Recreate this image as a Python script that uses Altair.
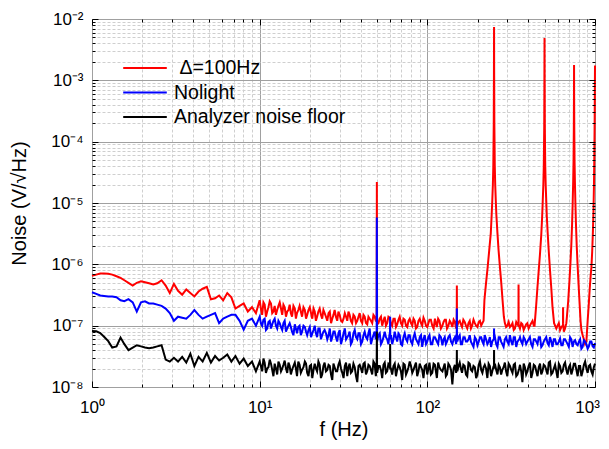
import altair as alt
import pandas as pd

UNIT = 1e-8  # all series values below are in units of 1e-8 V/sqrt(Hz)

NAMES = ["\u200b\u00a0\u0394=100Hz", "Nolight", "Analyzer noise floor"]
COLORS = ["#ff0000", "#0000ff", "#000000"]

F_LOW = [1.0, 1.06, 1.12, 1.18, 1.25, 1.32, 1.4, 1.48, 1.56, 1.65,
         1.75, 1.85, 1.96, 2.07, 2.19, 2.32, 2.45, 2.6, 2.75, 2.91,
         3.08, 3.26, 3.45, 3.65, 3.86, 4.08, 4.32, 4.57, 4.84, 5.12,
         5.42, 5.73, 6.06, 6.41, 6.78, 7.17, 7.59, 8.03, 8.5, 9.0,
         9.5]
F_HIGH = [10.0, 10.35, 10.71, 11.09, 11.48, 11.88, 12.29, 12.72, 13.17, 13.63,
          14.1, 14.6, 15.1, 15.6, 16.2, 16.7, 17.3, 17.9, 18.6, 19.2,
          19.9, 20.6, 21.3, 22.0, 22.8, 23.6, 24.4, 25.3, 26.2, 27.1,
          28.0, 29.0, 30.0, 31.1, 32.2, 33.3, 34.4, 35.6, 36.9, 38.2,
          39.5, 40.9, 42.3, 43.8, 45.3, 46.9, 48.5, 50.2, 52.0, 53.8,
          55.7, 57.6, 59.6, 61.7, 63.9, 66.1, 68.4, 70.8, 73.3, 75.9,
          78.5, 81.3, 84.1, 87.0, 90.1, 93.2, 96.5, 99.9, 103, 107,
          111, 114, 118, 123, 127, 131, 136, 141, 146, 151,
          156, 161, 167, 173, 179, 185, 192, 199, 206, 213,
          220, 228, 236, 244, 253, 262, 271, 280, 290, 300,
          311, 322, 333, 345, 357, 369, 382, 395, 409, 424,
          439, 454, 470, 486, 503, 521, 539, 558, 578, 598,
          619, 641, 663, 686, 710, 735, 761, 788, 815, 844,
          873, 904, 935, 968, 1000]
F_MID = [10.17, 10.53, 10.9, 11.28, 11.68, 12.08, 12.5, 12.94, 13.4, 13.86,
         14.35, 14.85, 15.35, 15.9, 16.45, 17.0, 17.6, 18.25, 18.9, 19.55,
         20.25, 20.95, 21.65, 22.4, 23.2, 24.0, 24.85, 25.75, 26.65, 27.55,
         28.5, 29.5, 30.55, 31.65, 32.75, 33.85, 35.0, 36.25, 37.55, 38.85,
         40.2, 41.6, 43.05, 44.55, 46.1, 47.7, 49.3, 51.1, 52.9, 54.75,
         56.65, 58.6, 60.65, 62.8, 65.0, 67.25, 69.6, 72.05, 74.6, 77.2,
         79.9, 82.7, 85.55, 88.55, 91.65, 94.85, 98.2, 101.5, 105, 109,
         112.5, 116, 120.5, 125, 129, 133.5, 138.5, 143.5, 148.5, 153.5,
         158.5, 164, 170, 176, 182, 188.5, 195.5, 202.5, 209.5, 216.5,
         224, 232, 240, 248.5, 257.5, 266.5, 275.5, 285, 295, 305.5,
         316.5, 327.5, 339, 353, 363, 375.5, 388.5, 402, 416.5, 431.5,
         446.5, 462, 478, 494.5, 512, 530, 548.5, 568, 588, 608.5,
         630, 652, 674.5, 698, 722.5, 748, 774.5, 801.5, 829.5, 858.5,
         888.5, 919.5, 951.5, 984]

RED_LOW = [65, 68, 71, 71, 70, 68, 64, 60, 55, 50,
           45, 50, 53, 51, 49, 47, 49, 55, 45, 34,
           48, 37, 32, 39, 34, 30, 36, 40, 43, 27,
           28, 31, 26, 34, 29, 19, 21, 23, 17, 20,
           16]
RED_HIGH = [26, 15, 22, 17, 25, 16, 21, 18, 24, 15,
            20, 17, 22, 14, 19, 16, 21, 14, 18, 15,
            20, 13, 17, 14, 19, 13, 16, 12, 17, 13,
            18, 12, 15, 11.5, 16, 12, 15, 11, 14, 12,
            16, 11, 14, 10.5, 13, 11, 14, 10.5, 13, 10,
            14, 11, 13.5, 10, 13, 10.5, 14, 10, 12.5, 9.5,
            13, 10, 12, 9.5, 13, 10, 12, 9.5, 12.5, 10,
            13, 9.5, 12, 10, 12.5, 9, 12, 9.5, 11.5, 10,
            12, 9.5, 11.5, 9, 12, 10, 11, 9.5, 12, 11,
            None, None, None, None, None, None, None, None, 11, 10,
            9.5, 11, 9, 10.5, 9, 10.5, 9.5, 11, 10, 12,
            None, None, None, None, None, None, None, None, None, 10,
            8.5, 10, 9, None, None, None, None, None, None, 7,
            5, None, None, None, None]
RED_MID = [19, 24, 14, 20, 23, 17, 15, 21, 19, 22,
           14, 18, 16, 21, 13, 18, 17, 20, 13, 18,
           16, 19, 12, 17, 15, 18, 14, 16, 11, 15,
           14, 17, 12, 13, 14, 17, 12, 15, 11, 14,
           12, 15, 11, 14, 12, 15, 12, 11, 14, 12,
           10, 14, 11, 13, 9.5, 12.5, 11, 13, 10, 12,
           11, 13, 9, 12, 11, 13.5, 10, 11, 12.5, 9,
           11, 13, 9, 11.5, 12.5, 10, 11, 12.5, 9, 11.5,
           10.5, 12.5, 10, 11, 9, 12.5, 10, 11.5, 10, 12,
           None, None, None, None, None, None, None, None, 9.5, 11.5,
           10, 8.5, 11.5, 10, 11, 8.5, 10.5, 9, 11, 10,
           None, None, None, None, None, None, None, None, 9, 11,
           9.5, 8, 11, None, None, None, None, None, 8.5, 6,
           5.5, None, None, None]

BLUE_LOW = [35, 33, 31, 30.5, 30, 30, 29, 26, 25, 27,
            24, 17, 24, 25, 23, 23, 22, 21, 19, 16,
            12, 14, 13.5, 13, 15, 18, 15, 13, 14, 15,
            16, 11, 13, 14, 15, 15, 12, 8.6, 12, 13,
            10]
BLUE_HIGH = [14, 10, 13, 9, 12, 10.5, 13, 9, 11, 8.5,
             12, 9, 11, 8, 10.5, 7.5, 10, 8, 9.5, 7,
             9.5, 7.5, 10, 6.5, 9, 7, 8.5, 6, 9, 6.5,
             8, 5.5, 8.5, 6, 9, 6.5, 8, 5.5, 8.5, 6,
             7.5, 5.5, 8, 6, 9, 6, 8, 5.5, 7.5, 5.5,
             8, 6, 7.5, 5, 8, 5.5, 7, 4.8, 7.5, 5.5,
             7, 5, 7.5, 5.5, 6.5, 4.5, 7, 5.5, 7, 5,
             6.5, 5.5, 7, 4.8, 6.5, 5.5, 7, 5, 6.5, 5.5,
             7, 5, 6.5, 5.5, 7, 5, 6.5, 4.8, 6.5, 5.5,
             7, 5, 6.5, 5.5, 6.5, 4.5, 6.5, 5, 6, 5.5,
             7, 4.8, 6.5, 5.5, 6.5, 5, 6, 5.5, 6.5, 4.5,
             6, 5, 6.5, 4.8, 6, 5.2, 6.5, 4.5, 6, 5,
             6.2, 4.8, 6, 5, 6.5, 4.5, 5.8, 4.8, 6, 4.5,
             5.5, 4.2, 5.5, 4.6, 5.2]
BLUE_MID = [11, 12.5, 8.5, 11.5, 9, 12, 10, 12, 9.5, 11,
            8, 10, 9.5, 7, 9, 9.5, 7, 10, 8, 8.5,
            6.5, 8.5, 7.5, 9, 6, 8, 7.5, 7, 5.5, 8,
            6.5, 7.5, 5, 7.5, 6, 7, 5, 7.5, 6.5, 7.5,
            5, 7, 6.5, 7.5, 5, 7, 6, 7, 5, 6.5,
            6.5, 5, 7, 6, 6.5, 7.5, 5, 6.5, 6, 7,
            5.5, 6.5, 6, 5, 7, 6, 5, 6.5, 5, 6.5,
            6, 5, 6.5, 6, 5, 6.5, 5.5, 6, 5, 6.5,
            5, 6.5, 5.5, 6, 5.5, 4.5, 6, 5.5, 6.5, 5,
            6, 5.5, 4.5, 6, 5, 6.5, 5.5, 4.5, 6.5, 5,
            5.5, 6.5, 4.5, 6, 5.5, 6.5, 5, 6, 5, 6,
            5.5, 6.5, 4.5, 5.5, 6.5, 4.8, 5.5, 6, 5, 5.5,
            4.8, 6, 5.5, 4.5, 6, 5.5, 5, 5.5, 4.2, 5.8,
            5, 4.6, 5.5, 4.4]

BLACK_LOW = [8.2, 8.1, 7.6, 6.6, 5.6, 4.4, 4.6, 6.4, 5.0, 4.0,
             4.4, 4.8, 4.6, 4.4, 4.3, 4.4, 4.6, 4.8, 2.8, 2.6,
             3.0, 2.6, 3.1, 2.5, 3.5, 2.2, 3.1, 2.6, 3.6, 2.5,
             3.2, 2.7, 3.0, 3.4, 2.6, 3.2, 2.4, 2.9, 2.2, 2.6,
             1.8]
BLACK_HIGH = [2.6, 1.8, 2.5, 2.0, 2.8, 1.9, 2.4, 1.6, 2.3, 2.0,
              2.7, 1.7, 2.2, 1.9, 2.5, 1.5, 2.3, 1.9, 2.6, 1.7,
              2.2, 1.4, 2.4, 1.8, 2.3, 1.6, 2.5, 1.9, 2.2, 1.3,
              2.1, 1.8, 2.6, 1.7, 2.2, 1.5, 2.4, 1.8, 2.1, 1.2,
              2.3, 1.7, 2.5, 1.8, 2.2, 1.6, 2.4, 1.7, 2.2, 1.4,
              2.5, 1.8, 2.3, 1.6, 2.4, 1.9, 2.1, 1.3, 2.3, 1.8,
              2.6, 1.7, 2.2, 1.5, 2.4, 1.9, 2.2, 1.6, 2.5, 1.7,
              2.3, 1.4, 2.1, 1.8, 2.4, 1.6, 2.2, 1.1, 2.3, 1.8,
              2.5, 1.7, 2.2, 1.5, 2.4, 1.8, 2.1, 1.6, 2.6, 1.7,
              2.3, 1.4, 2.2, 1.8, 2.4, 1.6, 2.1, 1.9, 2.5, 1.5,
              2.2, 1.7, 2.4, 1.6, 2.3, 1.2, 2.1, 1.8, 2.5, 1.7,
              2.2, 1.5, 2.4, 1.8, 2.2, 1.6, 2.6, 1.7, 2.3, 1.4,
              2.2, 1.8, 2.5, 1.6, 2.3, 1.9, 2.4, 1.5, 2.2, 1.8,
              2.6, 1.7, 2.3, 1.6, 2.4]
BLACK_MID = [2.2, 2.9, 1.7, 2.1, 2.4, 1.5, 2.0, 2.6, 1.8, 2.3,
             2.0, 2.5, 1.6, 2.2, 2.0, 2.6, 1.7, 2.1, 2.4, 1.5,
             2.3, 1.9, 2.0, 2.6, 1.4, 2.2, 1.8, 2.3, 1.6, 2.4,
             1.8, 2.3, 2.0, 1.4, 2.5, 2.1, 1.7, 2.4, 1.5, 2.2,
             2.0, 2.4, 1.6, 2.3, 1.9, 2.6, 1.5, 2.2, 1.9, 2.3,
             1.7, 2.4, 2.0, 2.2, 1.5, 2.3, 1.8, 2.4, 1.6, 2.1,
             2.2, 1.9, 2.5, 1.8, 2.1, 1.4, 2.3, 2.0, 1.6, 2.4,
             1.8, 2.5, 1.9, 2.1, 1.5, 2.4, 1.9, 2.0, 1.7, 2.2,
             2.0, 2.3, 1.6, 2.5, 1.9, 2.2, 1.4, 2.3, 1.9, 2.1,
             2.0, 2.4, 1.5, 2.2, 1.9, 2.3, 1.6, 2.1, 1.8, 2.4,
             1.9, 2.3, 1.5, 2.0, 1.8, 2.4, 1.6, 2.2, 1.4, 2.3,
             1.8, 2.1, 1.6, 2.3, 1.9, 2.5, 1.6, 2.0, 1.8, 2.4,
             1.7, 2.3, 1.9, 2.1, 1.6, 2.4, 1.9, 2.2, 1.5, 2.3,
             2.0, 2.2, 1.8, 2.1]

# resonance peaks of the red trace
P250_F = [219, 224, 229, 234, 239, 242, 244, 246, 247.5, 249, 249.6, 250,
          250.4, 251, 252.5, 254, 256, 258, 262, 266, 271, 276, 281, 286]
P250_V = [26, 50, 90, 170, 320, 650, 1100, 2000, 4000, 20000, 120000, 740000,
          120000, 20000, 4000, 2000, 1100, 650, 320, 170, 90, 50, 26, 14]
P500_F = [436, 445, 453, 461, 470, 478, 484, 488, 492, 495, 498, 499.2, 500,
          500.8, 502, 505, 508, 512, 516, 523, 531, 540, 549, 558, 570]
P500_V = [10, 20, 40, 75, 150, 300, 600, 1100, 2000, 4000, 18000, 100000, 490000,
          100000, 18000, 4000, 2000, 1100, 600, 300, 150, 75, 40, 20, 11]
P750_F = [680, 692, 703, 713, 722, 730, 736, 741, 745, 747.5, 749.3, 750,
          750.7, 752.5, 755, 759, 764, 770, 778, 787, 797, 808, 820]
P750_V = [14, 25, 50, 100, 200, 450, 1000, 2200, 5000, 15000, 60000, 178000,
          60000, 15000, 5000, 2200, 1000, 450, 200, 100, 50, 25, 12]
P1000_F = [890, 904, 918, 930, 942, 952, 962, 972, 980, 986, 991, 995, 998, 1000]
P1000_V = [6, 12, 22, 40, 65, 90, 160, 350, 800, 2000, 6000, 20000, 70000, 175000]

# narrow line spikes
RED_SPIKE_F = [49.85, 50, 50.15, 149.7, 150, 150.3, 349.5, 350, 350.5, 644, 645, 646]
RED_SPIKE_V = [12, 2200, 11, 11, 45, 11, 10, 47, 10, 10, 20, 11]
SPIKE_F = [49.85, 50, 50.15, 59.85, 60, 60.15, 149.7, 150, 150.3, 249.6, 250, 250.4]
BLUE_SPIKE_V = [7, 580, 6, 6, 14, 6, 6, 19, 6, 6, 9, 6]
BLACK_SPIKE_V = [2, 8, 2, 2, 5, 2, 2, 4, 2, 2, 4, 2]

X_MAJOR = [1, 10, 100, 1000]
X_MINOR = [m * 10 ** k for k in range(3) for m in range(2, 10)]
Y_MAJOR = [1e-8, 1e-7, 1e-6, 1e-5, 1e-4, 1e-3, 1e-2]
Y_MINOR = [m * 10.0 ** k for k in range(-8, -2) for m in range(2, 10)]

FONT = "Liberation Sans"


def build(name, low, high, mid, extra_f, extra_v):
    freqs = F_LOW + F_HIGH + F_MID
    vals = low + high + mid
    assert len(freqs) == len(vals), (name, len(freqs), len(vals))
    assert len(extra_f) == len(extra_v), name
    rows = [(f, v) for f, v in zip(freqs, vals) if v is not None]
    rows += list(zip(extra_f, extra_v))
    rows.sort(key=lambda r: r[0])
    return pd.DataFrame({"f": [r[0] for r in rows],
                         "v": [r[1] * UNIT for r in rows],
                         "series": name})


df_red = build(NAMES[0], RED_LOW, RED_HIGH, RED_MID,
               RED_SPIKE_F + P250_F + P500_F + P750_F + P1000_F,
               RED_SPIKE_V + P250_V + P500_V + P750_V + P1000_V)
df_blue = build(NAMES[1], BLUE_LOW, BLUE_HIGH, BLUE_MID, SPIKE_F, BLUE_SPIKE_V)
df_black = build(NAMES[2], BLACK_LOW, BLACK_HIGH, BLACK_MID, SPIKE_F, BLACK_SPIKE_V)

xs = alt.Scale(type="log", domain=[1, 1000], nice=False)
ys = alt.Scale(type="log", domain=[1e-8, 1e-2], nice=False)
cs = alt.Scale(domain=NAMES, range=COLORS)

x_label = ("datum.value >= 999 ? '10\u00b3' : datum.value >= 99 ? '10\u00b2' : "
           "datum.value >= 9 ? '10\u00b9' : '10\u2070'")
sup = {-8: "\u207b\u2078", -7: "\u207b\u2077", -6: "\u207b\u2076", -5: "\u207b\u2075",
       -4: "\u207b\u2074", -3: "\u207b\u00b3", -2: "\u207b\u00b2"}
y_label = ""
for k in range(-2, -8, -1):
    y_label += "datum.value > %g ? '10%s' : " % (0.5 * 10.0 ** k, sup[k])
y_label += "'10%s'" % sup[-8]

legend = alt.Legend(title=None, orient="none", legendX=30, legendY=37,
                    labelFontSize=19.5, labelFont=FONT, labelColor="black",
                    labelLimit=400, symbolType="stroke", symbolStrokeWidth=2,
                    symbolSize=1900, labelOffset=6, clipHeight=24,
                    rowPadding=0.5, padding=0)
color = alt.Color("series:N", scale=cs, legend=legend)

main_x = alt.Axis(orient="bottom", values=X_MAJOR, labelExpr=x_label, title="f (Hz)",
                  grid=True, gridColor="#a0a0a0", gridWidth=1, ticks=False, tickSize=0,
                  domain=False, labelFontSize=17, labelPadding=12, labelFlush=False,
                  labelOverlap=False, titleFontSize=20, titlePadding=4,
                  labelOffset={"condition": {"test": "datum.value >= 999", "value": -8},
                               "value": 0},
                  titleFontWeight="normal", labelColor="black", titleColor="black")
main_y = alt.Axis(orient="left", values=Y_MAJOR, labelExpr=y_label, title="Noise (V/\u221aHz)",
                  grid=True, gridColor="#a0a0a0", gridWidth=1, ticks=False, tickSize=0,
                  domain=False, labelFontSize=17, labelPadding=9, labelFlush=False,
                  labelOverlap=False, titleFontSize=20, titlePadding=21,
                  titleFontWeight="normal", labelColor="black", titleColor="black")
minor_x = alt.Axis(orient="bottom", values=X_MINOR, grid=True, gridColor="#cfcfcf",
                   gridDash=[3, 2], gridWidth=1, ticks=False, labels=False,
                   domain=False, title=None)
minor_y = alt.Axis(orient="left", values=Y_MINOR, grid=True, gridColor="#cfcfcf",
                   gridDash=[3, 2], gridWidth=1, ticks=False, labels=False,
                   domain=False, title=None)


def tick_axis(orient, values, size):
    return alt.Axis(orient=orient, values=values, offset=-size, tickSize=size,
                    tickColor="black", tickWidth=1, labels=False, domain=False,
                    grid=False, title=None, zindex=2)


red = alt.Chart(df_red).mark_line(strokeWidth=2).encode(
    x=alt.X("f:Q", scale=xs, axis=main_x),
    y=alt.Y("v:Q", scale=ys, axis=main_y),
    color=color)
blue = alt.Chart(df_blue).mark_line(strokeWidth=2).encode(
    x=alt.X("f:Q", scale=xs, axis=minor_x),
    y=alt.Y("v:Q", scale=ys, axis=minor_y),
    color=color)
black = alt.Chart(df_black).mark_line(strokeWidth=2).encode(
    x=alt.X("f:Q", scale=xs, axis=tick_axis("bottom", X_MAJOR, 6)),
    y=alt.Y("v:Q", scale=ys, axis=tick_axis("left", Y_MAJOR, 6)),
    color=color)
t1 = alt.Chart(df_black).mark_line(opacity=0).encode(
    x=alt.X("f:Q", scale=xs, axis=tick_axis("bottom", X_MINOR, 3)),
    y=alt.Y("v:Q", scale=ys, axis=tick_axis("left", Y_MINOR, 3)))
t2 = alt.Chart(df_black).mark_line(opacity=0).encode(
    x=alt.X("f:Q", scale=xs, axis=tick_axis("top", X_MAJOR, 6)),
    y=alt.Y("v:Q", scale=ys, axis=tick_axis("right", Y_MAJOR, 6)))
t3 = alt.Chart(df_black).mark_line(opacity=0).encode(
    x=alt.X("f:Q", scale=xs, axis=tick_axis("top", X_MINOR, 3)),
    y=alt.Y("v:Q", scale=ys, axis=tick_axis("right", Y_MINOR, 3)))

chart = alt.layer(red, blue, black, t1, t2, t3).resolve_axis(
    x="independent", y="independent"
).properties(
    width=503, height=368,
    autosize=alt.AutoSizeParams(type="none"),
    padding={"left": 84, "top": 11, "right": 6, "bottom": 54},
).configure_view(
    stroke="black", strokeWidth=1.5
).configure_axis(
    labelFont=FONT, titleFont=FONT
).configure(background="white")

chart.save("out.html", embed_options={"renderer": "svg", "actions": False})
